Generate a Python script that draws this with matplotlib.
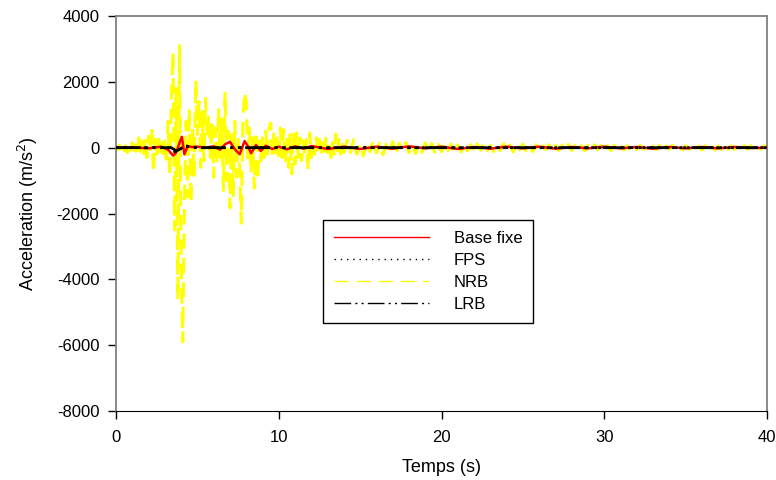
import numpy as np
import matplotlib
matplotlib.use("Agg")
import matplotlib.pyplot as plt

plt.rcParams["font.family"] = ["Liberation Sans", "DejaVu Sans"]
plt.rcParams["axes.unicode_minus"] = False

# NRB : echantillons tous les 0.1 s de 0 a 14 s, puis tous les 0.2 s jusqu'a 40 s
nrb_t1 = np.arange(0, 14, 0.1)
nrb_a1 = [
    20, -60, 80, -40, 120, -90, 60, -150, 100, -80,
    150, -200, 90, -250, 300, -120, 200, -180, 260, -300,
    350, -150, 600, -770, 250, -300, 400, -200, 150, -350,
    300, -500, 800, -900, 1500, 2900, -2500, 1800, -4630, 3100,
    -3500, -5900, -1800, 800, -1500, 1200, -1700, 600, -900, 2060,
    400, 1400, -600, 1100, -400, 1500, 300, 1000, -300, 800,
    -900, 600, -500, 1200, -300, 900, -1300, 1700, -1000, 500,
    -1830, 400, -1500, 800, -900, 300, -600, -2290, 900, 1700,
    1400, -400, 600, -800, 300, -1230, 500, -1000, 200, -400,
    300, -300, 500, -200, 600, 750, -250, 500, -300, 400,
    -400, 600, -300, 550, -500, 300, -600, 400, -800, 500,
    -500, 450, -300, 300, -400, 200, -250, 250, -680, 440,
    -300, 200, -200, 300, -150, 250, -250, 150, -200, 350,
    -150, 200, -300, 150, -200, 420, -100, 250, -200, 100,
]
nrb_t2 = np.arange(14, 40.01, 0.2)
nrb_a2 = [
    -180, 220, -150, 250, -200, 120, -250, 180, -120, 200,
    -160, 150, -220, 100, -130, 180, -200, 140, -100, 160,
    -150, 120, -180, 90, -140, 150, -110, 130, -170, 100,
    -120, 140, -90, 110, -160, 80, -130, 120, -100, 90,
    -140, 110, -80, 130, -100, 70, -120, 100, -90, 120,
    -110, 80, -130, 90, -70, 110, -100, 60, -120, 90,
    -80, 100, -60, 90, -110, 70, -90, 80, -60, 100,
    -90, 70, -80, 60, -100, 80, -70, 90, -60, 70,
    -80, 60, -90, 70, -50, 80, -70, 60, -80, 50,
    -60, 70, -50, 80, -70, 50, -60, 70, -80, 60,
    -50, 70, -60, 50, -70, 60, -50, 70, -60, 50,
    -70, 60, -50, 60, -70, 50, -60, 70, -50, 60,
    -60, 50, -70, 60, -50, 60, -60, 50, -50, 60,
    -40,
]

# Base fixe
base_t = [0, 1.0, 2.0, 2.8, 3.2, 3.5, 3.7, 3.9, 4.05, 4.2, 4.4, 4.7, 5.0, 5.5,
          6.0, 6.4, 6.7, 7.0, 7.3, 7.6, 7.9, 8.1, 8.3, 8.6, 8.9, 9.2, 9.6,
          10.0, 10.5, 11, 11.5, 12, 13, 14, 15, 16, 17, 18, 19, 20, 21, 22,
          23, 24, 25, 26, 27, 28, 29, 30, 31, 32, 33, 34, 35, 36, 37, 38, 39, 40]
base_a = [0, 10, -20, 30, -60, -240, -150, 150, 330, -200, 40, 20, 30, 0,
          40, -60, 100, 180, -50, -200, 200, 50, -170, 80, -100, 60, -40,
          30, -50, 40, -30, 50, -40, 30, -40, 30, -30, 40, -20, 30, -40, 20,
          -30, 30, -20, 30, -30, 20, -20, 30, -20, 20, -30, 20, -20, 20, -20, 20, -10, 0]

# FPS
fps_t = [0, 3.3, 3.6, 3.9, 4.2, 4.6, 5.0, 40]
fps_a = [0, 0, -120, -60, 60, 20, 0, 0]

# LRB
lrb_t = [0, 3.4, 3.7, 4.0, 4.3, 5.0, 40]
lrb_a = [0, 0, -100, -30, 50, 0, 0]

fig = plt.figure(figsize=(7.76, 4.8), dpi=100)
ax = fig.add_axes([0.1495, 0.14375, 0.839, 0.8229])

ax.plot(np.concatenate([nrb_t1, nrb_t2]), nrb_a1 + nrb_a2, color="#FFFF00",
        linestyle=(0, (5, 3)), linewidth=2.2, label="NRB", zorder=2)
ax.plot(base_t, base_a, color="red", linewidth=1.8, label="Base fixe", zorder=3)
ax.plot(fps_t, fps_a, color="black", linestyle=":", linewidth=2, label="FPS", zorder=4)
ax.plot(lrb_t, lrb_a, color="black", linestyle=(0, (8, 2, 1, 2, 1, 2)),
        linewidth=2, label="LRB", zorder=4)

ax.set_xlim(0, 40)
ax.set_ylim(-8000, 4000)
ax.set_xticks([0, 10, 20, 30, 40])
ax.set_yticks(np.arange(-8000, 4001, 2000))
ax.tick_params(direction="out", length=6, width=1, labelsize=12, colors="black")
ax.tick_params(axis="x", pad=8)
ax.tick_params(axis="y", pad=6)
ax.set_xlabel("Temps (s)", fontsize=13, labelpad=10)
ax.set_ylabel("Acceleration (m/s$^2$)", fontsize=13, labelpad=12)

for side in ["top", "right", "left"]:
    ax.spines[side].set_color("#808080")
    ax.spines[side].set_linewidth(1.3)
ax.spines["bottom"].set_color("black")

# legende dans l'ordre du graphique d'origine
handles, labels = ax.get_legend_handles_labels()
order = [labels.index(n) for n in ["Base fixe", "FPS", "NRB", "LRB"]]
leg = ax.legend([handles[i] for i in order], [labels[i] for i in order],
                loc="upper left", bbox_to_anchor=(0.318, 0.4835),
                borderaxespad=0, fontsize=12, handlelength=5.7,
                handletextpad=1.5, labelspacing=0.42, fancybox=False,
                edgecolor="black", framealpha=1, borderpad=0.65)
leg.get_frame().set_linewidth(1.0)
dash_leg = {"FPS": [1, 3.5], "NRB": [10, 6], "LRB": [12, 3, 1.5, 3, 1.5, 3]}
for h, t in zip(leg.get_lines(), leg.get_texts()):
    h.set_linewidth(1.0)
    if t.get_text() in dash_leg:
        h.set_dashes(dash_leg[t.get_text()])

fig.savefig("out.png", dpi=100)
